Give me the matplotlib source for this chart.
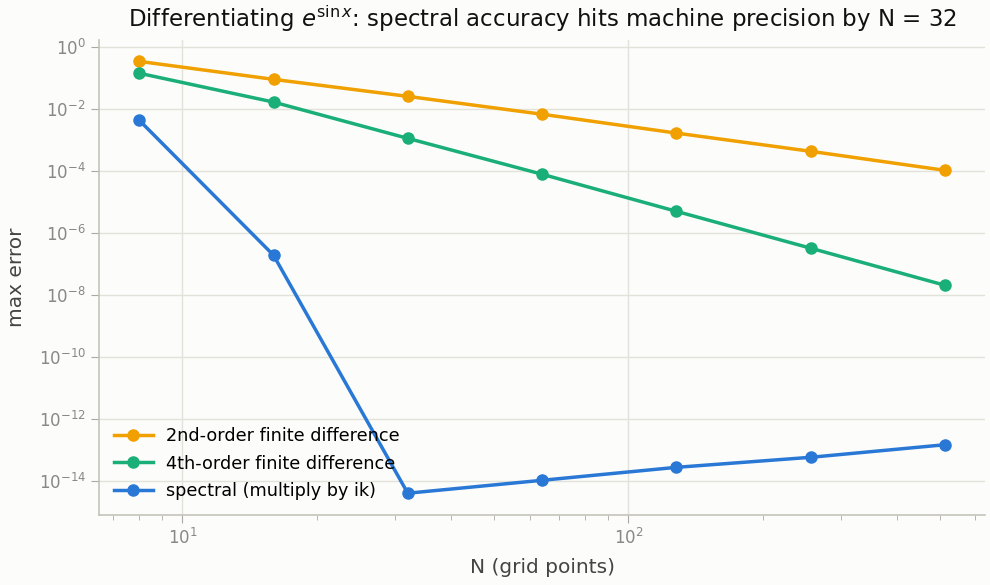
import matplotlib
matplotlib.use("Agg")
import matplotlib.pyplot as plt

plt.rcParams["font.family"] = ["DejaVu Sans"]
plt.rcParams["mathtext.fontset"] = "dejavusans"

# --- Data ---
n_points = [8, 16, 32, 64, 128, 256, 512]
err_fd2 = [0.35, 0.092, 0.026, 0.0069, 0.0017, 4.4e-4, 1.07e-4]
err_fd4 = [0.145, 0.017, 1.15e-3, 8.0e-5, 5.1e-6, 3.3e-7, 2.1e-8]
err_spectral = [4.4e-3, 1.95e-7, 4.1e-15, 1.07e-14, 2.8e-14, 5.9e-14, 1.5e-13]
series_labels = ["2nd-order finite difference",
                 "4th-order finite difference",
                 "spectral (multiply by ik)"]
series_colors = ["#F0A000", "#1AAF78", "#2A78D6"]

bg = "#FCFCFA"
fig = plt.figure(figsize=(9.9, 5.85), dpi=100, facecolor=bg)
ax = fig.add_axes([0.1, 0.12, 0.895, 0.812])
ax.set_facecolor(bg)

for ys, lab, col in zip([err_fd2, err_fd4, err_spectral], series_labels, series_colors):
    ax.plot(n_points, ys, "-o", color=col, lw=2.5, ms=8, label=lab)

ax.set_xscale("log")
ax.set_yscale("log")

ax.grid(True, which="major", color="#E2E2DA", lw=1)
ax.set_axisbelow(True)
for s in ["top", "right"]:
    ax.spines[s].set_visible(False)
for s in ["left", "bottom"]:
    ax.spines[s].set_color("#C4C4BC")
    ax.spines[s].set_linewidth(1.2)
ax.tick_params(which="both", colors="#AAAAA2", labelcolor="#888888", labelsize=12)
ax.tick_params(which="major", length=6)
ax.tick_params(which="minor", length=3.5)
ax.minorticks_on()
ax.yaxis.set_minor_locator(matplotlib.ticker.NullLocator())

ax.set_xlabel("N (grid points)", fontsize=14.5, color="#444444", labelpad=7)
ax.set_ylabel("max error", fontsize=14.5, color="#444444", labelpad=9)
ax.set_title(r"Differentiating $e^{\sin x}$: spectral accuracy hits machine precision by N = 32",
             fontsize=16.5, color="#111111", pad=9)

ax.legend(loc="lower left", frameon=False, fontsize=12.7, handlelength=2.2,
          borderaxespad=0.45, labelspacing=0.52, handletextpad=0.75)

fig.savefig("out.png", dpi=100, facecolor=bg)
